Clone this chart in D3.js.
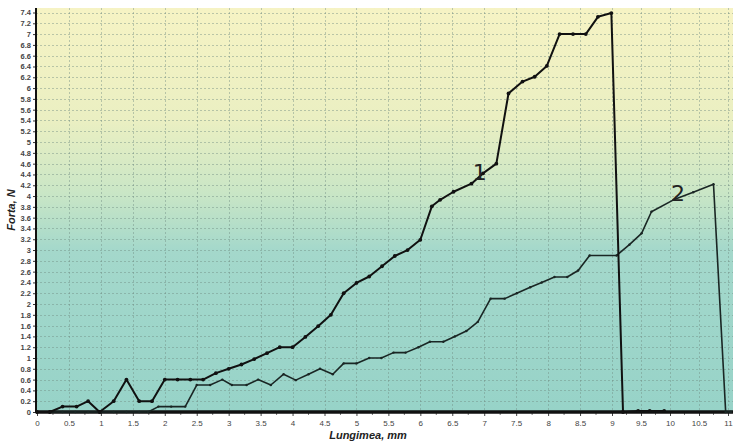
<!DOCTYPE html>
<html><head><meta charset="utf-8">
<script src="https://cdn.jsdelivr.net/npm/d3@7"></script>
<style>
html,body{margin:0;padding:0;background:#fff;}
svg{display:block;font-family:"Liberation Sans",Arial,sans-serif;}
</style></head>
<body>
<svg id="chart" width="733" height="442"></svg>
<script>
// ---- data ----
const curve1X = [0, 0.2, 0.4, 0.62, 0.8, 0.98, 1.2, 1.4, 1.6, 1.8, 2.0, 2.2, 2.4, 2.6, 2.8, 3.0, 3.2, 3.4, 3.6, 3.8, 4.0, 4.2, 4.4, 4.6, 4.8, 5.0, 5.2, 5.4, 5.6, 5.8, 6.0, 6.18, 6.31, 6.52, 6.8, 6.98, 7.19, 7.38, 7.6, 7.79, 7.98, 8.18, 8.39, 8.59, 8.78, 8.99, 9.19, 9.45, 9.65, 9.9];
const curve1Y = [0, 0, 0.1, 0.1, 0.2, 0, 0.2, 0.6, 0.2, 0.2, 0.6, 0.6, 0.6, 0.6, 0.72, 0.8, 0.88, 0.98, 1.09, 1.2, 1.2, 1.39, 1.59, 1.8, 2.2, 2.39, 2.51, 2.7, 2.89, 3.0, 3.19, 3.81, 3.93, 4.08, 4.23, 4.42, 4.6, 5.9, 6.12, 6.21, 6.41, 7.0, 7.0, 7.0, 7.32, 7.39, 0, 0.02, 0.02, 0.02];
const curve2X = [0, 0.2, 0.4, 0.6, 0.8, 1.0, 1.2, 1.4, 1.6, 1.74, 1.9, 2.1, 2.32, 2.5, 2.71, 2.9, 3.05, 3.28, 3.46, 3.66, 3.86, 4.05, 4.25, 4.43, 4.63, 4.8, 5.0, 5.2, 5.39, 5.58, 5.77, 5.97, 6.15, 6.36, 6.54, 6.72, 6.9, 7.1, 7.32, 7.51, 7.72, 7.9, 8.1, 8.3, 8.47, 8.65, 9.08, 9.3, 9.51, 9.68, 10.06, 10.4, 10.75, 10.96, 11.05];
const curve2Y = [0, 0, 0, 0, 0, 0, 0, 0, 0, 0, 0.1, 0.1, 0.1, 0.5, 0.5, 0.6, 0.5, 0.5, 0.6, 0.5, 0.7, 0.59, 0.7, 0.8, 0.7, 0.9, 0.9, 1.0, 1.0, 1.1, 1.1, 1.2, 1.3, 1.3, 1.4, 1.5, 1.67, 2.1, 2.1, 2.2, 2.31, 2.4, 2.5, 2.5, 2.62, 2.9, 2.9, 3.1, 3.31, 3.71, 3.93, 4.07, 4.22, 0, 0];
const xTickValues = d3.range(0, 11.01, 0.5);
const yTickValues = d3.range(0, 7.41, 0.2);
const curveLabels = ["1", "2"];
const curveLabelAt = [[6.93, 4.4], [10.14, 4.02]];
const xTitle = "Lungimea, mm";
const yTitle = "Forta, N";

// ---- layout ----
const W = 733, H = 442;
const plot = {left: 36, right: 733, top: 8, bottom: 412};
const svg = d3.select("#chart");

const x = d3.scaleLinear().domain([0, 9, 11]).range([37, 612, 728]);
const y = d3.scaleLinear().domain([0, 7.4]).range([plot.bottom, 12.5]);

// background gradient
const defs = svg.append("defs");
const grad = defs.append("linearGradient").attr("id", "bg")
  .attr("x1", 0).attr("y1", 0).attr("x2", 0).attr("y2", 1);
[["0%", "#f6f3c4"], ["28%", "#eaefc2"], ["46%", "#c9e6c6"], ["60%", "#a4d8cb"], ["100%", "#97d3c8"]]
  .forEach(([o, c]) => grad.append("stop").attr("offset", o).attr("stop-color", c));

svg.append("rect").attr("x", plot.left).attr("y", plot.top)
  .attr("width", plot.right - plot.left).attr("height", plot.bottom - plot.top)
  .attr("fill", "url(#bg)");

// grid
const grid = svg.append("g").attr("stroke", "#6f8a80").attr("stroke-opacity", 0.55)
  .attr("stroke-width", 0.8).attr("stroke-dasharray", "2,2");
grid.selectAll("line.h").data(yTickValues.filter(v => v > 0.01)).join("line")
  .attr("x1", plot.left).attr("x2", plot.right)
  .attr("y1", d => Math.round(y(d)) + 0.5).attr("y2", d => Math.round(y(d)) + 0.5);
grid.selectAll("line.v").data(xTickValues.filter(v => v > 0.01)).join("line")
  .attr("y1", plot.top).attr("y2", plot.bottom)
  .attr("x1", d => Math.round(x(d)) + 0.5).attr("x2", d => Math.round(x(d)) + 0.5);

// axes
const fmt = v => String(Math.round(v * 10) / 10);
const xAxis = d3.axisBottom(x).tickValues(xTickValues).tickFormat(fmt).tickSize(4).tickPadding(4);
const gx = svg.append("g").attr("transform", `translate(0,${plot.bottom})`).call(xAxis);
gx.select(".domain").remove();
gx.selectAll("text").attr("font-size", 8).attr("fill", "#444");
gx.selectAll("line").attr("stroke", "#444");
// minor x ticks
svg.append("g").selectAll("line").data(d3.range(0.25, 11, 0.5)).join("line")
  .attr("x1", d => x(d)).attr("x2", d => x(d))
  .attr("y1", plot.bottom).attr("y2", plot.bottom + 3)
  .attr("stroke", "#555").attr("stroke-width", 0.8);

const yAxis = d3.axisLeft(y).tickValues(yTickValues).tickFormat(fmt).tickSize(3).tickPadding(2);
const gy = svg.append("g").attr("transform", `translate(${plot.left},0)`).call(yAxis);
gy.select(".domain").remove();
gy.selectAll("text").attr("font-size", 7.5).attr("font-weight", "bold").attr("fill", "#444");
gy.selectAll("line").attr("stroke", "#333");

// axis lines
svg.append("line").attr("x1", plot.left).attr("x2", plot.left)
  .attr("y1", plot.top).attr("y2", plot.bottom + 1)
  .attr("stroke", "#111").attr("stroke-width", 2);
svg.append("line").attr("x1", plot.left).attr("x2", plot.right)
  .attr("y1", plot.bottom).attr("y2", plot.bottom)
  .attr("stroke", "#111").attr("stroke-width", 3.5);

// curves
const line = d3.line().x(d => x(d[0])).y(d => y(d[1]));
const c1 = d3.zip(curve1X, curve1Y);
const c2 = d3.zip(curve2X, curve2Y);

svg.append("path").datum(c2).attr("d", line).attr("fill", "none")
  .attr("stroke", "#1a2624").attr("stroke-width", 1.6).attr("stroke-linejoin", "round");
svg.append("g").selectAll("circle").data(c2).join("circle")
  .attr("cx", d => x(d[0])).attr("cy", d => y(d[1])).attr("r", 1.2).attr("fill", "#1a2624");

svg.append("path").datum(c1).attr("d", line).attr("fill", "none")
  .attr("stroke", "#111").attr("stroke-width", 2).attr("stroke-linejoin", "round");
svg.append("g").selectAll("circle").data(c1).join("circle")
  .attr("cx", d => x(d[0])).attr("cy", d => y(d[1])).attr("r", 1.9).attr("fill", "#111");

// curve labels
svg.append("g").selectAll("text").data(curveLabels).join("text")
  .attr("x", (d, i) => x(curveLabelAt[i][0]))
  .attr("y", (d, i) => y(curveLabelAt[i][1]))
  .attr("text-anchor", "middle").attr("dominant-baseline", "middle")
  .attr("font-family", "'DejaVu Sans', sans-serif")
  .attr("font-size", 22).attr("fill", "#222").text(d => d);

// axis titles
svg.append("text").attr("x", 368).attr("y", 439).attr("text-anchor", "middle")
  .attr("font-size", 11).attr("font-weight", "bold").attr("font-style", "italic")
  .attr("fill", "#222").text(xTitle);
svg.append("text").attr("transform", "translate(15,210) rotate(-90)").attr("text-anchor", "middle")
  .attr("font-size", 11).attr("font-weight", "bold").attr("font-style", "italic")
  .attr("fill", "#222").text(yTitle);
</script>
</body></html>
